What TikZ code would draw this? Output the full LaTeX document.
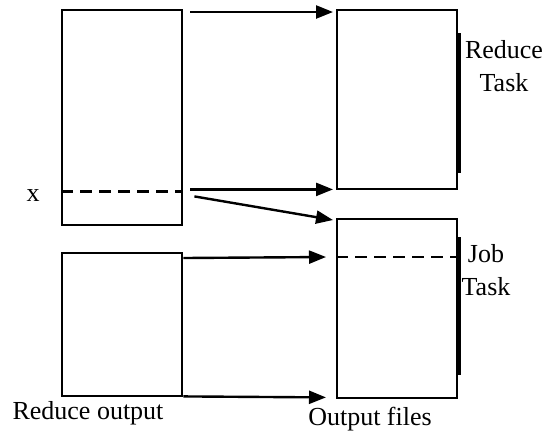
\documentclass[tikz,border=0pt]{standalone}
\usepackage{fontspec}
\setmainfont{Liberation Serif}
\usetikzlibrary{arrows.meta,positioning}
\tikzset{
  filebox/.style={draw, line width=1.2pt, anchor=north west, minimum width=60pt, inner sep=0pt},
  cutline/.style={line width=1.2pt, dash pattern=on 6pt off 3.5pt},
  edgebar/.style={line width=2.2pt},
  flowarrow/.style={-{Triangle[length=8.5pt,width=6.5pt]}, line width=1.2pt},
  lbl/.style={font=\fontsize{13}{16.5}\selectfont, inner sep=0pt, align=center}
}
\begin{document}
\begin{tikzpicture}[x=0.5pt, y=-0.5pt]
\useasboundingbox (0,0) rectangle (544,436);
\node[filebox, minimum height=107.5pt] (mapin) at (61,9) {};
\node[filebox, minimum height=71.5pt] (redout) at (61,252) {};
\node[filebox, minimum height=89.5pt] (redtask) at (336,9) {};
\node[filebox, minimum height=89.5pt] (jobtask) at (336,218) {};

\draw[cutline] ([yshift=17.5pt]mapin.south west) -- ([yshift=17.5pt]mapin.south east);
\draw[cutline] ([yshift=-19.5pt]jobtask.north west) -- ([yshift=-19.5pt]jobtask.north east);
\draw[edgebar] ([yshift=-12pt]redtask.north east) -- ([yshift=8.5pt]redtask.south east);
\draw[edgebar] ([yshift=-9.5pt]jobtask.north east) -- ([yshift=12pt]jobtask.south east);

\node[lbl] (redlbl) at (504,66) {Reduce\\Task};
\node[lbl] (joblbl) at (486,270) {Job\\Task};
\node[lbl] (xlbl) at (33,196) {x};
\node[lbl] (outlbl) at (88,413) {Reduce output};
\node[lbl] (fileslbl) at (370,419) {Output files};

\draw[flowarrow] ([xshift=3.5pt,yshift=-1.5pt]mapin.north east) -- ([xshift=-1.5pt,yshift=-1.5pt]redtask.north west);
\draw[flowarrow] ([xshift=3.5pt,yshift=18.5pt]mapin.south east) -- ([xshift=-1.5pt,yshift=0.5pt]redtask.south west);
\draw[flowarrow] ([xshift=5.5pt,yshift=15pt]mapin.south east) -- ([xshift=-1.5pt,yshift=-1pt]jobtask.north west);
\draw[flowarrow] ([yshift=-3pt]redout.north east) -- ([xshift=-5pt,yshift=-19.5pt]jobtask.north west);
\draw[flowarrow] ([yshift=0.5pt]redout.south east) -- ([xshift=-5pt,yshift=1pt]jobtask.south west);
\end{tikzpicture}
\end{document}
